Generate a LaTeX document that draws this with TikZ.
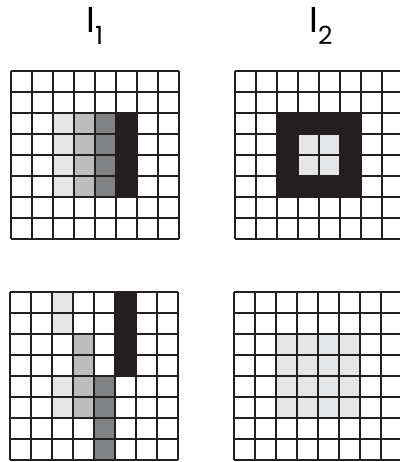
\documentclass[tikz,border=0pt]{standalone}
\usepackage{fontspec}
\setmainfont{Poppins}
\definecolor{gA}{HTML}{E4E5E6}
\definecolor{gB}{HTML}{BCBDBF}
\definecolor{gC}{HTML}{808183}
\definecolor{gD}{HTML}{231F20}
\definecolor{gridc}{HTML}{231F20}
\tikzset{
  gridlines/.style={draw=gridc, line width=1.2pt},
  lbl/.style={inner sep=0pt, anchor=base west, font=\fontsize{36}{36}\selectfont},
}
% \cellfill{color}{origin x}{origin y}{col}{row}
\newcommand{\cellfill}[5]{\fill[#1] ({#2+21*#4},{#3+21*#5}) rectangle ++(21,21);}
% \gridlinesat{origin x}{origin y}
\newcommand{\gridlinesat}[2]{%
  \foreach \k in {0,...,8}{
    \draw[gridlines] ({#1+21*\k},#2) -- ({#1+21*\k},{#2+168});
    \draw[gridlines] (#1,{#2+21*\k}) -- ({#1+168},{#2+21*\k});
  }}
\begin{document}
\begin{tikzpicture}[x=1pt,y=-1pt]
\useasboundingbox (0,0) rectangle (399,462);
\fill[white] (0,0) rectangle (399,462);
% Grid 1 (top-left) origin (11,71)
\foreach \r in {2,...,5}{
  \cellfill{gA}{11}{71}{2}{\r}
  \cellfill{gB}{11}{71}{3}{\r}
  \cellfill{gC}{11}{71}{4}{\r}
  \cellfill{gD}{11}{71}{5}{\r}
}
\gridlinesat{11}{71}
% Grid 2 (top-right) origin (235,71)
\foreach \r in {2,...,5}{\foreach \c in {2,...,5}{\cellfill{gD}{235}{71}{\c}{\r}}}
\foreach \r in {3,4}{\foreach \c in {3,4}{\cellfill{gA}{235}{71}{\c}{\r}}}
\gridlinesat{235}{71}
% Grid 3 (bottom-left) origin (10,292)
\foreach \r in {0,1,4,5}{\cellfill{gA}{10}{292}{2}{\r}}
\foreach \r in {2,...,5}{\cellfill{gB}{10}{292}{3}{\r}}
\foreach \r in {4,...,7}{\cellfill{gC}{10}{292}{4}{\r}}
\foreach \r in {0,...,3}{\cellfill{gD}{10}{292}{5}{\r}}
\gridlinesat{10}{292}
% Grid 4 (bottom-right) origin (234,292)
\foreach \r in {2,...,5}{\foreach \c in {2,...,5}{\cellfill{gA}{234}{292}{\c}{\r}}}
\gridlinesat{234}{292}
% Labels
\node[lbl] (l1) at (86,33) {I\raisebox{-12pt}{\fontsize{25}{25}\selectfont 1}};
\node[lbl] (l2) at (309,33) {I\raisebox{-12pt}{\fontsize{25}{25}\selectfont 2}};
\end{tikzpicture}
\end{document}
